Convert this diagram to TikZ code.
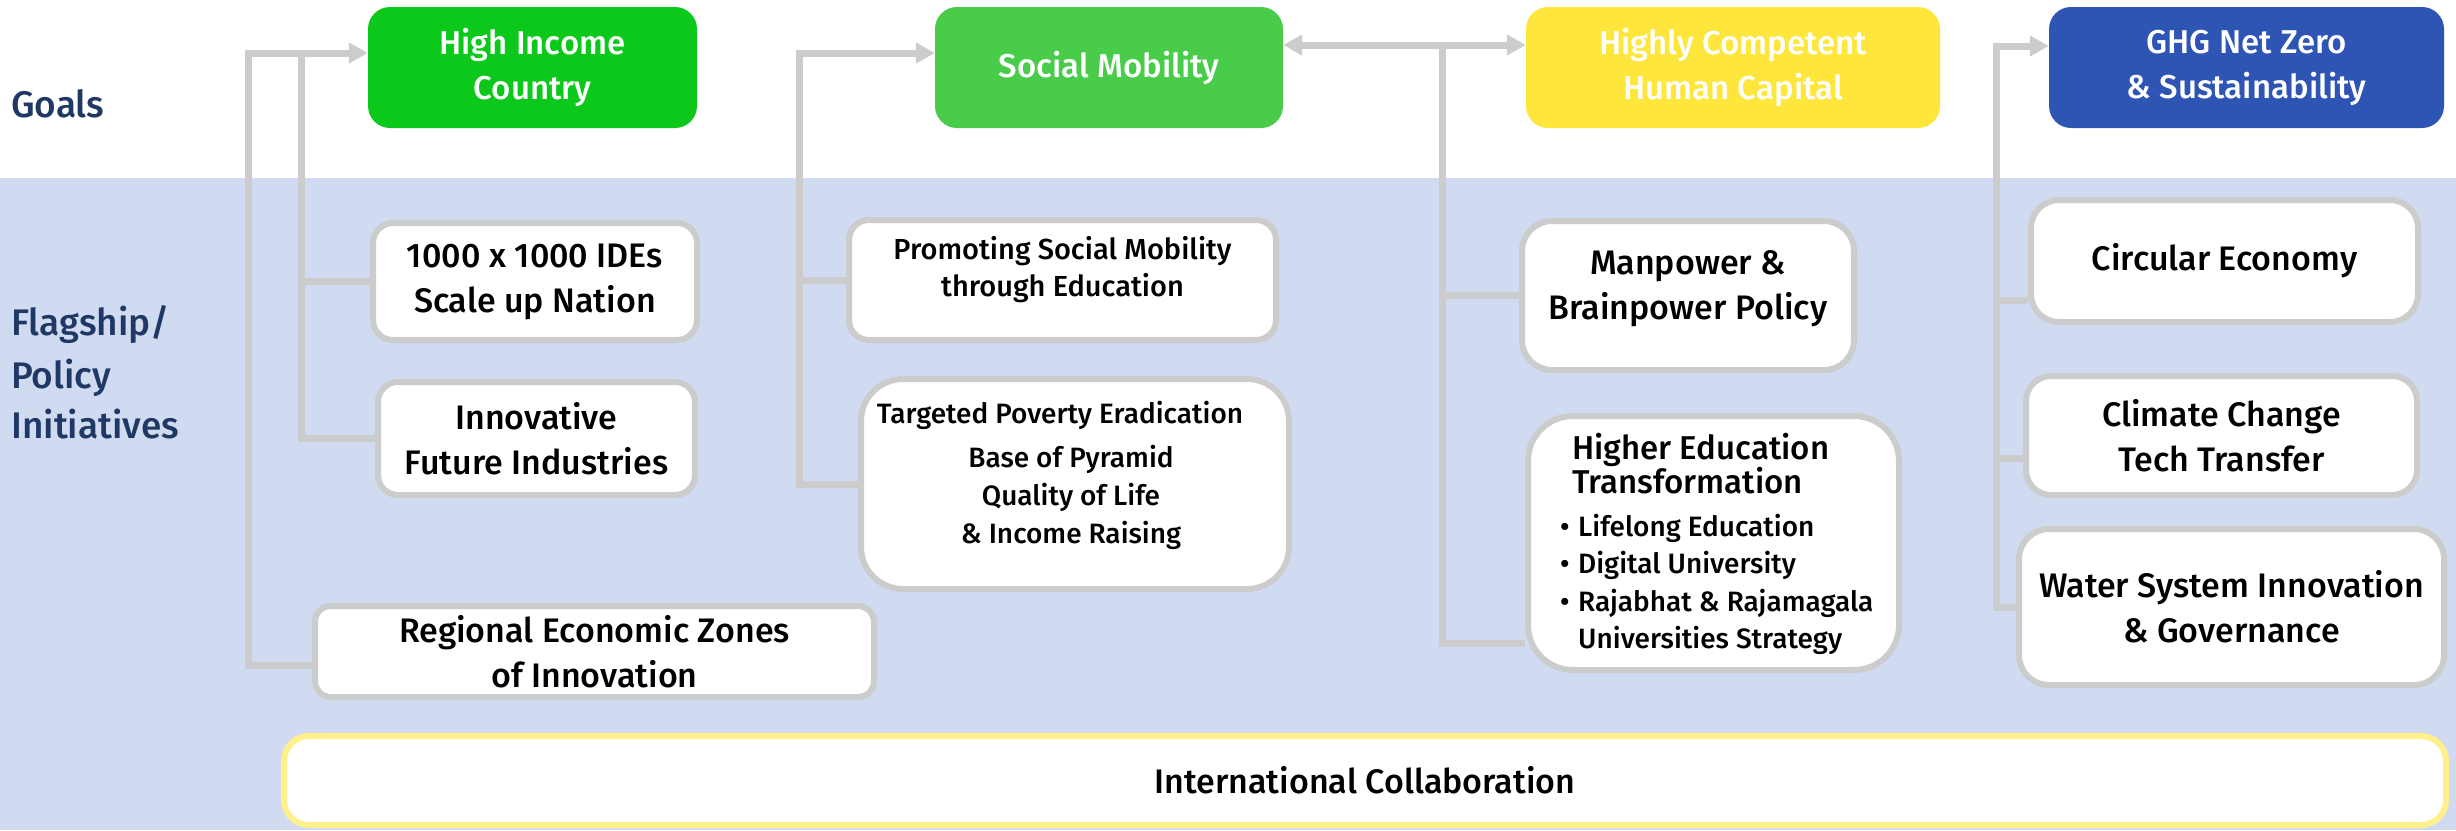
\documentclass[tikz,border=0pt]{standalone}
\usepackage{fontspec}
\setmainfont{Fira Sans}[UprightFont={* Medium}]
\usetikzlibrary{arrows.meta}
\definecolor{bandblue}{RGB}{208,219,242}
\definecolor{linegray}{RGB}{204,204,204}
\definecolor{hicgreen}{RGB}{11,200,26}
\definecolor{smgreen}{RGB}{72,204,74}
\definecolor{hcyellow}{RGB}{255,230,60}
\definecolor{ghgblue}{RGB}{46,84,180}
\definecolor{navy}{RGB}{31,56,100}
\definecolor{intlyellow}{RGB}{255,240,140}
\tikzset{
 goalbox/.style={rounded corners=22pt, inner sep=0pt, text=white, align=center, font=\fontsize{33}{45}\selectfont},
 flagbox/.style={draw=linegray, line width=6pt, fill=white, rounded corners=20pt, inner sep=0pt, align=center, font=\fontsize{34}{45}\selectfont},
 conn/.style={draw=linegray, line width=7pt},
 arrowtip/.style={-{Triangle[width=20pt,length=19pt]}},
 dblarrow/.style={{Triangle[width=20pt,length=19pt]}-{Triangle[width=20pt,length=19pt]}},
 sidelabel/.style={text=navy, font=\fontsize{37}{52}\selectfont, anchor=base west, inner sep=0pt},
 boxtxt/.style={font=\fontsize{29}{37}\selectfont, align=center, inner sep=0pt},
 bigtxt/.style={font=\fontsize{34}{45}\selectfont, align=center, inner sep=0pt},
 smalltxt/.style={font=\fontsize{28}{38}\selectfont, anchor=base, inner sep=0pt},
 listtxt/.style={font=\fontsize{28}{38}\selectfont, anchor=base west, inner sep=0pt},
 headtxt/.style={font=\fontsize{33}{34}\selectfont, anchor=base west, inner sep=0pt},
}
\begin{document}
\begin{tikzpicture}[x=1pt,y=-1pt]
\useasboundingbox (0,0) rectangle (2456,830);
\fill[bandblue] (0,178) rectangle (2456,830);

% side labels
\node[sidelabel] (goals) at (11,117) {Goals};
\node[sidelabel] (flag1) at (11,335) {Flagship/};
\node[sidelabel] (flag2) at (11,388) {Policy};
\node[sidelabel] (flag3) at (11,438) {Initiatives};

% goal boxes
\node[goalbox, fill=hicgreen, minimum width=329pt, minimum height=121pt] (hic) at (532.5,67.5) {High Income\\Country};
\node[goalbox, fill=smgreen, minimum width=348pt, minimum height=121pt] (sm) at (1109,67.5) {Social Mobility};
\node[goalbox, fill=hcyellow, minimum width=414pt, minimum height=121pt] (hchc) at (1733,67.5) {Highly Competent\\Human Capital};
\node[goalbox, fill=ghgblue, minimum width=395pt, minimum height=121pt] (ghg) at (2246.5,67.5) {GHG Net Zero\\\& Sustainability};

% flagship boxes
\node[flagbox, minimum width=324pt, minimum height=117pt] (ides) at (535,281.5) {1000 x 1000 IDEs\\Scale up Nation};
\node[flagbox, minimum width=317pt, minimum height=113pt] (innov) at (536.5,438.5) {Innovative\\Future Industries};
\node[flagbox, rounded corners=16pt, minimum width=559pt, minimum height=91pt] (regional) at (594.5,651.5) {Regional Economic Zones\\of Innovation};
\node[flagbox, minimum width=427pt, minimum height=120pt] (promo) at (1062.5,280) {};
\node[boxtxt] (promotxt) at (1062.5,270) {Promoting Social Mobility\\through Education};
\node[flagbox, rounded corners=42pt, minimum width=428pt, minimum height=210pt] (target) at (1075,484) {};
\node[flagbox, rounded corners=30pt, minimum width=332pt, minimum height=149pt] (manpower) at (1688,295.5) {};
\node[bigtxt] (mantxt) at (1688,289) {Manpower \&\\Brainpower Policy};
\node[flagbox, rounded corners=45pt, minimum width=371pt, minimum height=254pt] (het) at (1713.5,543) {};
\node[flagbox, rounded corners=28pt, minimum width=387pt, minimum height=122pt] (circ) at (2224.5,261) {Circular Economy};
\node[flagbox, rounded corners=25pt, minimum width=391pt, minimum height=119pt] (climate) at (2221.5,435.5) {Climate Change\\Tech Transfer};
\node[flagbox, rounded corners=30pt, minimum width=425pt, minimum height=156pt] (water) at (2231.5,607) {Water System Innovation\\\& Governance};
\node[flagbox, draw=intlyellow, rounded corners=25pt, minimum width=2162pt, minimum height=89pt] (intl) at (1365,780.5) {International Collaboration};

% targeted text
\node[smalltxt] (tg1) at (1060,423) {Targeted Poverty Eradication};
\node[smalltxt] (tg2) at (1071,467) {Base of Pyramid};
\node[smalltxt] (tg3) at (1071,505) {Quality of Life};
\node[smalltxt] (tg4) at (1071,543) {\& Income Raising};

% higher education text
\node[headtxt] (het1) at (1572,459) {Higher Education};
\node[headtxt] (het2) at (1572,493) {Transformation};
\node[listtxt] (het3) at (1560,536) {\makebox[18pt][l]{\textbullet}Lifelong Education};
\node[listtxt] (het4) at (1560,573) {\makebox[18pt][l]{\textbullet}Digital University};
\node[listtxt] (het5) at (1560,611) {\makebox[18pt][l]{\textbullet}Rajabhat \& Rajamagala};
\node[listtxt] (het6) at (1560,648) {\hspace*{18pt}Universities Strategy};

% connectors: High Income Country
\coordinate (hicIn) at ([yshift=14.5pt]hic.west);
\coordinate (busO) at (248,53);
\coordinate (busI) at (301,53);
\draw[conn, arrowtip] ([yshift=-13.5pt]regional.west) -| (busO) -- (hicIn);
\draw[conn] (innov.west) -| (busI);
\draw[conn] (ides.west) -- (ides.west -| busI);

% Social Mobility
\coordinate (smIn) at ([yshift=14.5pt]sm.west);
\coordinate (busS) at (799,53);
\draw[conn, arrowtip] (target.west) -| (busS) -- (smIn);
\draw[conn] (promo.west) -- (promo.west -| busS);

% Human Capital
\coordinate (smOut) at ([yshift=22.5pt]sm.east);
\coordinate (hcIn) at ([yshift=22.5pt]hchc.west);
\coordinate (busH) at (1442,45);
\draw[conn, dblarrow] (smOut) -- (hcIn);
\draw[conn] ([yshift=-100pt]het.west) -| (busH);
\draw[conn] (manpower.west) -- (manpower.west -| busH);

% GHG
\coordinate (ghgIn) at ([yshift=21.5pt]ghg.west);
\coordinate (busG) at (1996,46);
\draw[conn, arrowtip] (water.west) -| (busG) -- (ghgIn);
\draw[conn] ([yshift=-39pt]circ.west) -- ([yshift=-39pt]circ.west -| busG);
\draw[conn] ([yshift=-22.5pt]climate.west) -- ([yshift=-22.5pt]climate.west -| busG);
\end{tikzpicture}
\end{document}
